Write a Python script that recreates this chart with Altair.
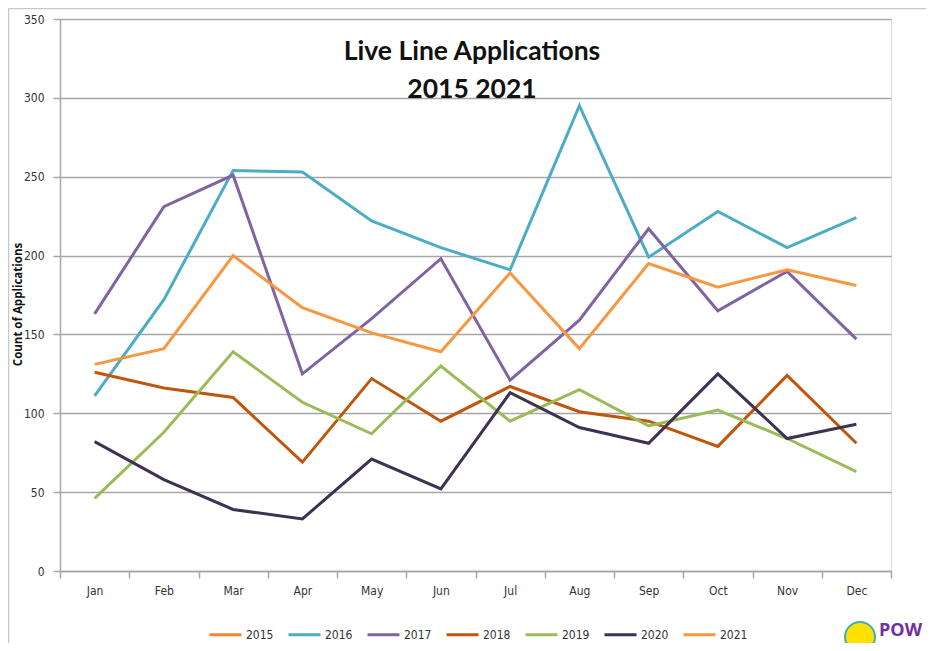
import altair as alt
import pandas as pd

months = ["Jan", "Feb", "Mar", "Apr", "May", "Jun", "Jul", "Aug", "Sep", "Oct", "Nov", "Dec"]
years = ["2015", "2016", "2017", "2018", "2019", "2020", "2021"]
colors = ["#F5842F", "#4BACC6", "#8064A2", "#C0560C", "#9BBB59", "#3F3151", "#F8973F"]

s2016 = [111, 172, 254, 253, 222, 205, 191, 295, 199, 228, 205, 224]
s2017 = [163, 231, 251, 125, 160, 198, 121, 159, 217, 165, 190, 147]
s2018 = [126, 116, 110, 69, 122, 95, 117, 101, 95, 79, 124, 81]
s2019 = [46, 88, 139, 107, 87, 130, 95, 115, 92, 102, 84, 63]
s2020 = [82, 58, 39, 33, 71, 52, 113, 91, 81, 125, 84, 93]
s2021 = [131, 141, 200, 167, 151, 139, 189, 141, 195, 180, 191, 181]

series = {"2016": s2016, "2017": s2017, "2018": s2018, "2019": s2019, "2020": s2020, "2021": s2021}
rows = []
for y, vals in series.items():
    for m, v in zip(months, vals):
        rows.append({"year": y, "month": m, "count": v})
df = pd.DataFrame(rows)

W, H = 831, 552
FONT = "Liberation Sans Narrow, DejaVu Sans Condensed, Arial Narrow, sans-serif"
GRAY = "#a6a6a6"

lines = alt.Chart(df).mark_line(strokeWidth=3).encode(
    x=alt.X("month:O", sort=months, bandPosition=0.5,
            scale=alt.Scale(type="band", paddingInner=0, paddingOuter=0),
            axis=alt.Axis(title=None, labelAngle=0, tickBand="extent", tickSize=7,
                          tickColor=GRAY, domainColor=GRAY, domainWidth=1.5, tickWidth=1.5,
                          labelPadding=7, labelFontSize=12, labelColor="#333333",
                          labelFont=FONT, grid=False)),
    y=alt.Y("count:Q", scale=alt.Scale(domain=[0, 350], nice=False),
            axis=alt.Axis(values=list(range(0, 351, 50)), tickSize=7, tickColor=GRAY,
                          tickWidth=1.5, domainColor=GRAY, domainWidth=1.5,
                          grid=True, gridColor=GRAY, gridWidth=1.5,
                          labelPadding=9, labelFontSize=12, labelColor="#333333",
                          labelFont=FONT,
                          title="Count of Applications", titleFontSize=11.5,
                          titleFont="Open Sans", titleFontWeight="bold", titleColor="#111111",
                          titleX=-42, titleY=285, titleAngle=-90, titleBaseline="middle",
                          titleAlign="center")),
    color=alt.Color("year:N", scale=alt.Scale(domain=years, range=colors),
                    legend=alt.Legend(title=None, orient="none", direction="horizontal",
                                      legendX=148, legendY=598, symbolType="stroke",
                                      symbolSize=1024, symbolStrokeWidth=3,
                                      labelFontSize=12, labelFont=FONT, labelColor="#333333",
                                      labelOffset=3, columnPadding=8)),
)

t1 = alt.Chart(pd.DataFrame({"t": ["Live Line Applications"]})).mark_text(
    font="Lato", fontSize=26.5, fontWeight="bold", color="#111111", align="center", baseline="middle"
).encode(text="t:N", x=alt.value(412), y=alt.value(33))
t2 = alt.Chart(pd.DataFrame({"t": ["2015 2021"]})).mark_text(
    font="Lato", fontSize=26.5, fontWeight="bold", color="#111111", align="center", baseline="middle"
).encode(text="t:N", x=alt.value(412), y=alt.value(71))

frame_top = alt.Chart(pd.DataFrame({"a": [0]})).mark_rule(color="#c8c8c8", strokeWidth=1.5).encode(
    x=alt.value(-51.5), x2=alt.value(880), y=alt.value(-10.5))
frame_left = alt.Chart(pd.DataFrame({"a": [0]})).mark_rule(color="#c8c8c8", strokeWidth=1.5).encode(
    x=alt.value(-51.5), y=alt.value(-10.5), y2=alt.value(640))

logo = alt.Chart(pd.DataFrame({"a": [0]})).mark_point(
    shape="circle", filled=True, fill="#FFE000", stroke="#3FB0B0", strokeWidth=2, opacity=1, size=900
).encode(x=alt.value(800), y=alt.value(618))
logo_t = alt.Chart(pd.DataFrame({"t": ["POW"]})).mark_text(
    font="Open Sans", fontSize=18, fontWeight="bold", color="#7030A0", align="left", baseline="alphabetic"
).encode(text="t:N", x=alt.value(819), y=alt.value(617))

chart = alt.layer(frame_top, frame_left, lines, t1, t2, logo, logo_t).properties(
    width=W, height=H,
    autosize=alt.AutoSizeParams(type="none"),
    padding={"left": 52, "top": 11, "right": 35, "bottom": 72},
).configure_view(stroke=None).configure(background="white")

chart.save("out.html", embed_options={"renderer": "svg", "actions": False})
